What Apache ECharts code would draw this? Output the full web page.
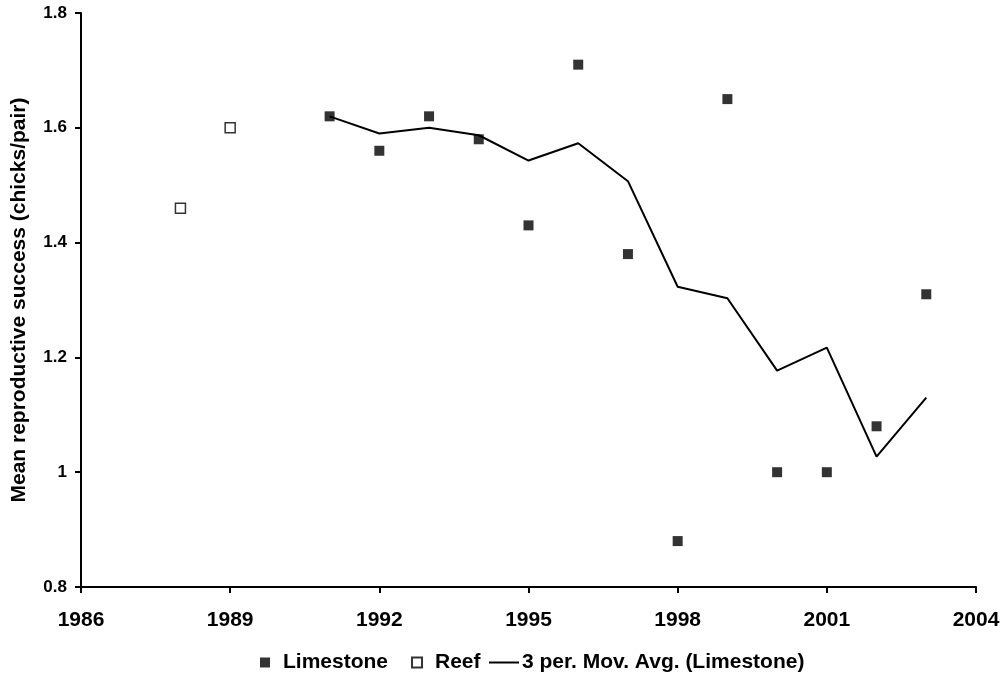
<!DOCTYPE html>
<html>
<head>
<meta charset="utf-8">
<title>Mean reproductive success</title>
<script src="https://cdn.jsdelivr.net/npm/echarts@6/dist/echarts.min.js"></script>
<style>
  html, body { margin: 0; padding: 0; background: #fff; }
  #chart { width: 1005px; height: 681px; }
</style>
</head>
<body>
<div id="chart"></div>
<script>
// Breeding seasons and mean chicks fledged per pair
const reefYears = [1988, 1989];
const reefValues = [1.46, 1.60];

const limestoneYears = [1991, 1992, 1993, 1994, 1995, 1996, 1997, 1998, 1999, 2000, 2001, 2002, 2003];
const limestoneValues = [1.62, 1.56, 1.62, 1.58, 1.43, 1.71, 1.38, 0.88, 1.65, 1.00, 1.00, 1.08, 1.31];

// 3-period moving average trendline for Limestone
const movAvgValues = [1.62, 1.59, 1.60, 1.587, 1.543, 1.573, 1.507, 1.323, 1.303, 1.177, 1.217, 1.027, 1.13];

const xTicks = [1986, 1989, 1992, 1995, 1998, 2001, 2004];
const yTicks = [0.8, 1.0, 1.2, 1.4, 1.6, 1.8];

const pairs = (xs, ys) => xs.map((x, i) => [x, ys[i]]);

const FONT = '"Liberation Sans", Arial, Helvetica, sans-serif';
const legendText = { fontFamily: FONT, fontWeight: 'bold', fontSize: 21, color: '#000' };

const chart = echarts.init(document.getElementById('chart'), null, { renderer: 'canvas' });

chart.setOption({
  animation: false,
  backgroundColor: '#ffffff',
  textStyle: { fontFamily: FONT, color: '#000' },
  grid: { left: 81, right: 29, top: 13, bottom: 94, containLabel: false, outerBoundsMode: 'none' },
  legend: [
    {
      data: [
        { name: 'Limestone', icon: 'rect' },
        { name: 'Reef', icon: 'rect' }
      ],
      left: 260,
      top: 652,
      padding: 0,
      itemWidth: 10,
      itemHeight: 10,
      itemGap: 23,
      textStyle: Object.assign({ padding: [0, 0, 0, 8] }, legendText)
    },
    {
      data: [{ name: '3 per. Mov. Avg. (Limestone)', icon: 'rect' }],
      left: 489,
      top: 652,
      padding: 0,
      itemWidth: 30,
      itemHeight: 2,
      textStyle: Object.assign({ padding: [0, 0, 0, -2] }, legendText)
    }
  ],
  xAxis: {
    type: 'value',
    min: xTicks[0],
    max: xTicks[xTicks.length - 1],
    interval: 3,
    splitLine: { show: false },
    axisLine: { onZero: false, lineStyle: { color: '#000', width: 2 } },
    axisTick: { show: true, inside: false, length: 6, lineStyle: { color: '#000', width: 2 } },
    axisLabel: {
      margin: 23,
      fontFamily: FONT,
      fontWeight: 'bold',
      fontSize: 21,
      color: '#000',
      formatter: v => String(v)
    }
  },
  yAxis: {
    type: 'value',
    min: yTicks[0],
    max: yTicks[yTicks.length - 1],
    interval: 0.2,
    name: 'Mean reproductive success (chicks/pair)',
    nameLocation: 'middle',
    nameRotate: 90,
    nameGap: 51,
    nameTextStyle: { fontFamily: FONT, fontWeight: 'bold', fontSize: 21, color: '#000' },
    splitLine: { show: false },
    axisLine: { show: true, lineStyle: { color: '#000', width: 2 } },
    axisTick: { show: true, inside: false, length: 6, lineStyle: { color: '#000', width: 2 } },
    axisLabel: {
      margin: 14,
      fontFamily: FONT,
      fontWeight: 'bold',
      fontSize: 17,
      color: '#000',
      formatter: v => String(Number(v.toFixed(1)))
    }
  },
  series: [
    {
      name: 'Limestone',
      type: 'scatter',
      symbol: 'rect',
      symbolSize: 10,
      itemStyle: { color: '#000' },
      data: pairs(limestoneYears, limestoneValues),
      z: 3
    },
    {
      name: 'Reef',
      type: 'scatter',
      symbol: 'rect',
      symbolSize: 10,
      itemStyle: { color: '#fff', borderColor: '#000', borderWidth: 1.5 },
      data: pairs(reefYears, reefValues),
      z: 3
    },
    {
      name: '3 per. Mov. Avg. (Limestone)',
      type: 'line',
      showSymbol: false,
      symbol: 'none',
      lineStyle: { color: '#000', width: 2 },
      itemStyle: { color: '#000' },
      data: pairs(limestoneYears, movAvgValues),
      z: 2
    }
  ]
});
</script>
</body>
</html>
